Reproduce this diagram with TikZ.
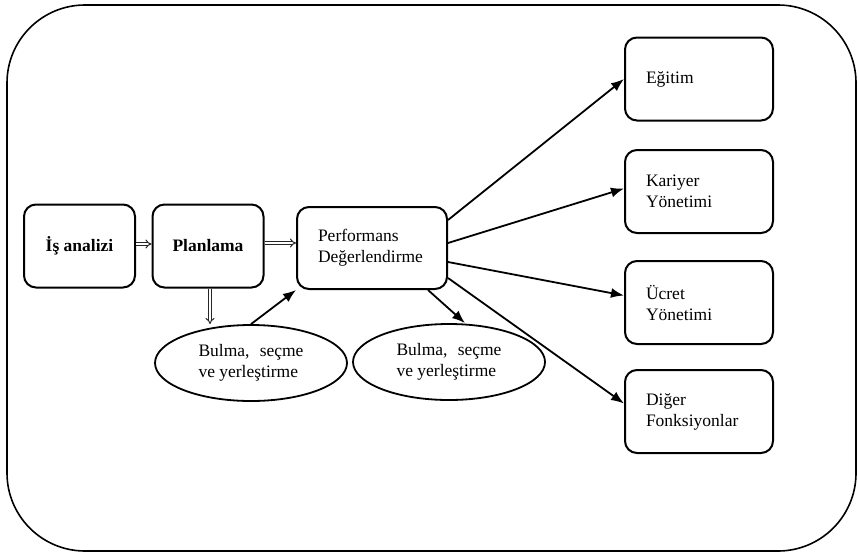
\documentclass[tikz,border=0pt]{standalone}
\usepackage{fontspec}
\setmainfont{Liberation Serif}
\usepackage{tikz}
\usetikzlibrary{arrows.meta,positioning,shapes.geometric}

\begin{document}
\begin{tikzpicture}[
  x=1pt, y=-1pt,
  font=\fontsize{17.5}{21}\selectfont,
  box/.style={rectangle, rounded corners=12pt, draw, line width=2pt, minimum width=111pt, minimum height=83pt, align=center, inner sep=0pt},
  sidebox/.style={box, minimum width=148pt, text width=106pt, align=left, inner xsep=21pt},
  oval/.style={ellipse, draw, line width=1.8pt, minimum width=192pt, minimum height=76pt, inner sep=0pt, align=left},
  arrow/.style={-{Latex[length=13pt,width=10pt]}, line width=1.8pt},
  darrow/.style={-{Implies}, double, double distance=2pt, line width=1pt, draw=black!85}
]
  \useasboundingbox (0,0) rectangle (858,554);

  % outer frame
  \node[draw, line width=1.6pt, rounded corners=78pt, minimum width=849pt, minimum height=546pt] (frame) at (431.5,278) {};

  % main line
  \node[box] (isanalizi) at (79.5,246) {\bfseries İş analizi};
  \node[box] (planlama) at (208,246) {\bfseries Planlama};
  \node[box, minimum width=150pt, minimum height=82pt, text width=108pt, align=left, inner xsep=21pt] (perf) at (372,248) {Performans\\Değerlendirme};

  % ellipses
  \node[oval] (bulma1) at (251,363) {\makebox[105pt][s]{Bulma, seçme}\\ve yerleştirme};
  \node[oval] (bulma2) at (449,362) {\makebox[105pt][s]{Bulma, seçme}\\ve yerleştirme};

  % functions
  \node[sidebox] (egitim) at (699,79) {Eğitim};
  \node[sidebox] (kariyer) at (699,191.5) {Kariyer\\Yönetimi};
  \node[sidebox] (ucret) at (699,302.5) {Ücret\\Yönetimi};
  \node[sidebox] (diger) at (699,411.5) {Diğer\\Fonksiyonlar};

  \draw[darrow] ([yshift=2pt]isanalizi.east) -- ([yshift=2pt]planlama.west);
  \draw[darrow] ([yshift=3pt]planlama.east) -- ([yshift=3pt]perf.west |- planlama.east);
  \draw[darrow] ([xshift=2pt]planlama.south) -- ([xshift=2pt]planlama.south |- bulma1.north);
  \draw[arrow] (bulma1.north) -- (perf.south west);
  \draw[arrow] ([xshift=-20pt]perf.south east) -- ([xshift=16pt]bulma2.north);

  \draw[arrow] ([yshift=28pt]perf.east) -- (egitim.west);
  \draw[arrow] ([yshift=5pt]perf.east) -- ([yshift=3pt]kariyer.west);
  \draw[arrow] ([yshift=-14pt]perf.east) -- ([yshift=7pt]ucret.west);
  \draw[arrow] ([yshift=-30pt]perf.east) -- ([yshift=8pt]diger.west);
\end{tikzpicture}
\end{document}
